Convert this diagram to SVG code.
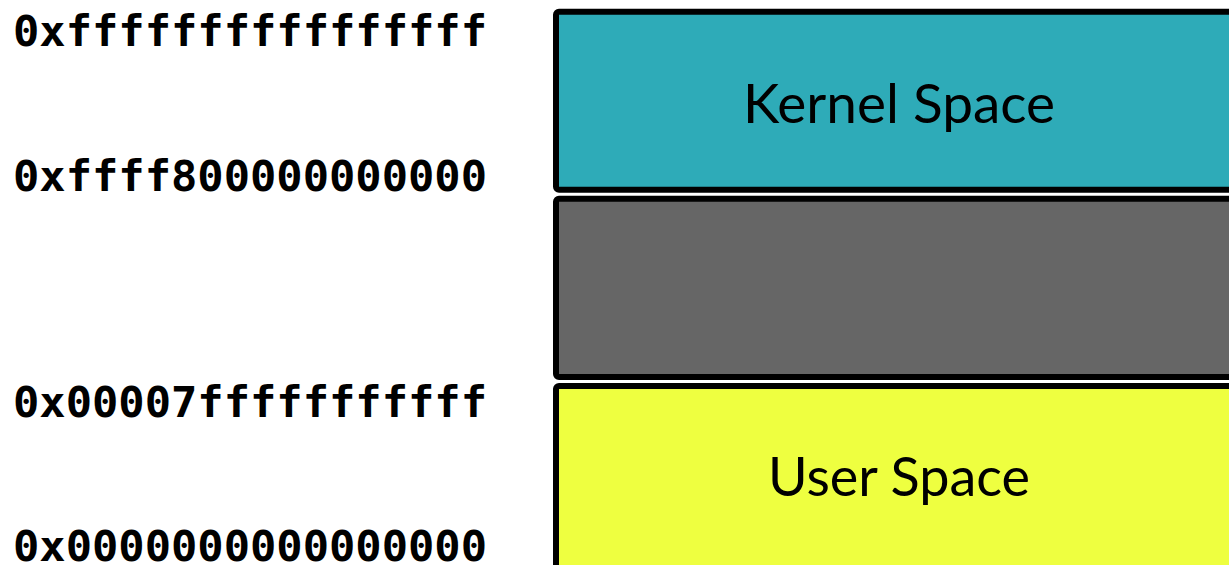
<svg xmlns="http://www.w3.org/2000/svg" width="1229" height="565" viewBox="0 0 1229 565">
<style>
.addr{font-family:"DejaVu Sans Mono","Liberation Mono",monospace;font-weight:bold;font-size:43px;fill:#000}
.blk{stroke:#000;stroke-width:6}
.lbl{font-family:Lato,"Open Sans",sans-serif;font-size:54px;fill:#000;text-anchor:middle}
</style>
<rect width="1229" height="565" fill="#fff"/>
<g id="addresses">
<text class="addr" x="13" y="46" textLength="474" lengthAdjust="spacingAndGlyphs">0xffffffffffffffff</text>
<text class="addr" x="13" y="191" textLength="474" lengthAdjust="spacingAndGlyphs">0xffff800000000000</text>
<text class="addr" x="13" y="417" textLength="474" lengthAdjust="spacingAndGlyphs">0x00007fffffffffff</text>
<text class="addr" x="13" y="561" textLength="474" lengthAdjust="spacingAndGlyphs">0x0000000000000000</text>
</g>
<g id="kernel">
<rect class="blk" x="556" y="11.7" width="690" height="178" rx="3" fill="#2eabb8"/>
<text class="lbl" x="899" y="123" textLength="312" lengthAdjust="spacingAndGlyphs">Kernel Space</text>
</g>
<g id="gap">
<rect class="blk" x="556" y="198.7" width="690" height="178.3" rx="3" fill="#666666"/>
</g>
<g id="user">
<rect class="blk" x="556" y="386" width="690" height="190" rx="3" fill="#eeff40"/>
<text class="lbl" x="899" y="496" textLength="262" lengthAdjust="spacingAndGlyphs">User Space</text>
</g>
<g id="connectors"/>
</svg>
